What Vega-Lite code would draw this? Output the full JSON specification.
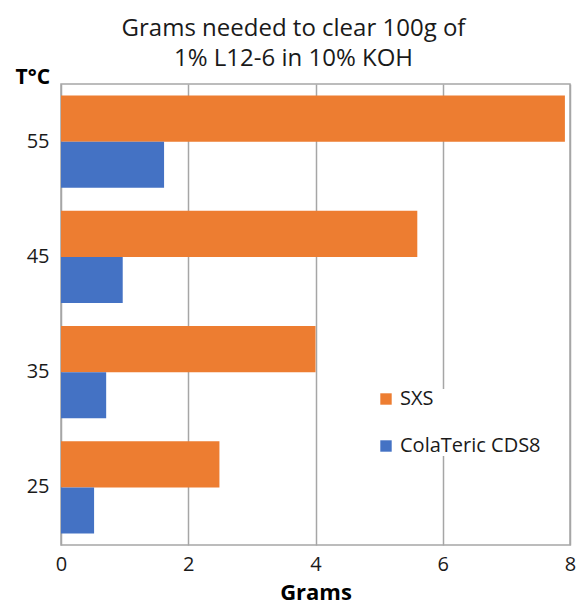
{
  "$schema": "https://vega.github.io/schema/vega-lite/v6.json",
  "autosize": {"type": "none"},
  "width": 509,
  "height": 461,
  "padding": {"left": 61, "top": 84, "right": 7, "bottom": 65},
  "background": "white",
  "title": {
    "text": ["Grams needed to clear 100g of", "1% L12-6 in 10% KOH"],
    "anchor": "middle",
    "dx": -22,
    "dy": 17,
    "font": "Open Sans",
    "fontSize": 24,
    "fontWeight": "normal",
    "color": "#1a1a1a",
    "lineHeight": 30,
    "offset": 12
  },
  "config": {
    "view": {"stroke": "#A6A6A6", "strokeWidth": 1.5},
    "font": "Open Sans"
  },
  "data": {
    "values": [
      {"temp": "55", "series": "SXS", "grams": 7.92},
      {"temp": "55", "series": "ColaTeric CDS8", "grams": 1.62},
      {"temp": "45", "series": "SXS", "grams": 5.6},
      {"temp": "45", "series": "ColaTeric CDS8", "grams": 0.97},
      {"temp": "35", "series": "SXS", "grams": 4.0},
      {"temp": "35", "series": "ColaTeric CDS8", "grams": 0.71},
      {"temp": "25", "series": "SXS", "grams": 2.49},
      {"temp": "25", "series": "ColaTeric CDS8", "grams": 0.52}
    ]
  },
  "mark": {"type": "bar"},
  "encoding": {
    "y": {
      "field": "temp",
      "type": "nominal",
      "sort": ["55", "45", "35", "25"],
      "scale": {"paddingInner": 0.2, "paddingOuter": 0.1},
      "axis": {
        "title": "T°C",
        "titleAngle": 0,
        "titleAlign": "left",
        "titleBaseline": "alphabetic",
        "titleX": -46,
        "titleY": -1,
        "titleFontSize": 21,
        "titleFontWeight": "bold",
        "titleColor": "#000000",
        "labelFontSize": 20,
        "labelColor": "#1a1a1a",
        "labelPadding": 12,
        "ticks": false,
        "domain": false,
        "grid": false
      }
    },
    "yOffset": {
      "field": "series",
      "type": "nominal",
      "sort": ["SXS", "ColaTeric CDS8"],
      "scale": {"paddingInner": 0, "paddingOuter": 0}
    },
    "x": {
      "field": "grams",
      "type": "quantitative",
      "scale": {"domain": [0, 8], "nice": false},
      "axis": {
        "title": "Grams",
        "values": [0, 2, 4, 6, 8],
        "labelFlush": false,
        "labelBound": false,
        "titleFontSize": 22,
        "titleFontWeight": "bold",
        "titleColor": "#000000",
        "titlePadding": 8,
        "labelFontSize": 20,
        "labelColor": "#1a1a1a",
        "labelPadding": 9,
        "ticks": false,
        "domain": false,
        "grid": true,
        "gridColor": "#A6A6A6",
        "gridWidth": 1.5
      }
    },
    "color": {
      "field": "series",
      "type": "nominal",
      "scale": {"domain": ["SXS", "ColaTeric CDS8"], "range": ["#ED7D31", "#4472C4"]},
      "legend": {
        "title": null,
        "orient": "none",
        "legendX": 315,
        "legendY": 305,
        "symbolType": "square",
        "symbolSize": 130,
        "symbolStrokeWidth": 0,
        "labelFontSize": 20,
        "labelColor": "#1a1a1a",
        "labelOffset": 4,
        "rowPadding": 27,
        "fillColor": "white"
      }
    }
  }
}
